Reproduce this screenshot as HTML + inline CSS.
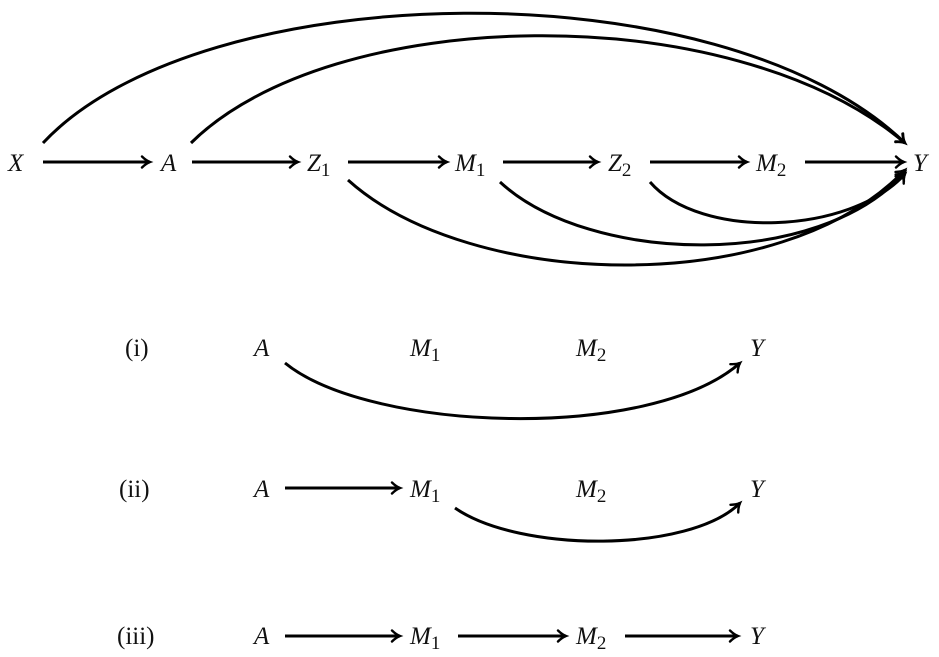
<!DOCTYPE html>
<html><head><meta charset="utf-8"><style>
html,body{margin:0;padding:0;background:#fff;}
svg{display:block;}
text{font-family:"Liberation Serif",serif;font-size:25px;fill:#111;}
.i{font-style:italic;}
</style></head><body>
<svg width="939" height="657" viewBox="0 0 939 657" xmlns="http://www.w3.org/2000/svg">
<defs>
<marker id="ah" markerWidth="14" markerHeight="14" refX="10" refY="7" orient="auto" markerUnits="userSpaceOnUse">
<path d="M2,1.5 Q6,5.5 10,7 Q6,8.5 2,12.5" fill="none" stroke="#000" stroke-width="2.4" stroke-linecap="round"/>
</marker>
</defs>
<g stroke="#000" stroke-width="3" fill="none" marker-end="url(#ah)">
<line x1="43" y1="162" x2="150" y2="162"/>
<line x1="192" y1="162" x2="298" y2="162"/>
<line x1="348" y1="162" x2="447" y2="162"/>
<line x1="503" y1="162" x2="598" y2="162"/>
<line x1="650" y1="162" x2="747" y2="162"/>
<line x1="805" y1="162" x2="904" y2="162"/>
<path d="M43,143 C200,-25 720,-35 905,143"/>
<path d="M191,143 C330,5 730,-5 905,143"/>
<path d="M348,180 C470,290 780,300 905,170"/>
<path d="M500,182 C590,265 820,270 905,172"/>
<path d="M650,182 C700,240 850,235 905,174"/>
<path d="M285,363 C370,432 650,442 740,363"/>
<line x1="285" y1="488" x2="400" y2="488"/>
<path d="M455,508 C520,553 690,553 740,503"/>
<line x1="285" y1="636" x2="400" y2="636"/>
<line x1="458" y1="636" x2="566" y2="636"/>
<line x1="625" y1="636" x2="738" y2="636"/>
</g>
<g>
<text class="i" x="8" y="171">X</text>
<text class="i" x="161" y="171">A</text>
<text class="i" x="307" y="171">Z<tspan font-style="normal" font-size="19" dy="5">1</tspan></text>
<text class="i" x="455" y="171">M<tspan font-style="normal" font-size="19" dy="5">1</tspan></text>
<text class="i" x="608" y="171">Z<tspan font-style="normal" font-size="19" dy="5">2</tspan></text>
<text class="i" x="756" y="171">M<tspan font-style="normal" font-size="19" dy="5">2</tspan></text>
<text class="i" x="913" y="171">Y</text>

<text x="125" y="356">(i)</text>
<text class="i" x="254" y="356">A</text>
<text class="i" x="410" y="356">M<tspan font-style="normal" font-size="19" dy="5">1</tspan></text>
<text class="i" x="576" y="356">M<tspan font-style="normal" font-size="19" dy="5">2</tspan></text>
<text class="i" x="750" y="356">Y</text>

<text x="119" y="497">(ii)</text>
<text class="i" x="254" y="497">A</text>
<text class="i" x="410" y="497">M<tspan font-style="normal" font-size="19" dy="5">1</tspan></text>
<text class="i" x="576" y="497">M<tspan font-style="normal" font-size="19" dy="5">2</tspan></text>
<text class="i" x="750" y="497">Y</text>

<text x="117" y="644">(iii)</text>
<text class="i" x="254" y="644">A</text>
<text class="i" x="410" y="644">M<tspan font-style="normal" font-size="19" dy="5">1</tspan></text>
<text class="i" x="576" y="644">M<tspan font-style="normal" font-size="19" dy="5">2</tspan></text>
<text class="i" x="750" y="644">Y</text>
</g>
</svg>
</body></html>
